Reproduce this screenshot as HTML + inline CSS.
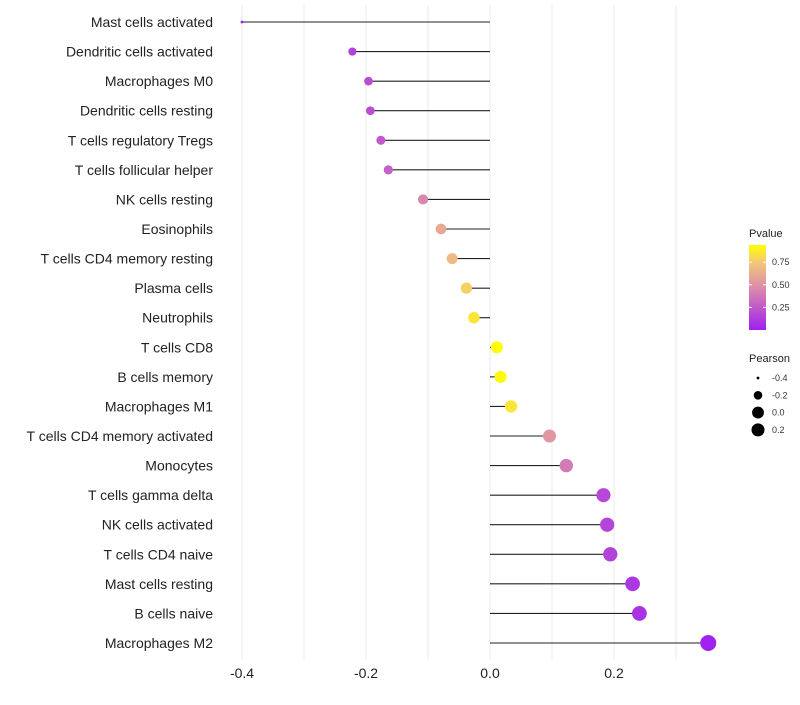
<!DOCTYPE html>
<html><head><meta charset="utf-8"><style>
body{margin:0;background:#fff;font-family:"Liberation Sans",sans-serif}
</style></head><body>
<svg id="c" width="800" height="700" xmlns="http://www.w3.org/2000/svg"></svg>
<script>
const categories=["Mast cells activated","Dendritic cells activated","Macrophages M0","Dendritic cells resting","T cells regulatory  Tregs","T cells follicular helper","NK cells resting","Eosinophils","T cells CD4 memory resting","Plasma cells","Neutrophils","T cells CD8","B cells memory","Macrophages M1","T cells CD4 memory activated","Monocytes","T cells gamma delta","NK cells activated","T cells CD4 naive","Mast cells resting","B cells naive","Macrophages M2"];
const pearson=[-0.40,-0.222,-0.196,-0.193,-0.176,-0.164,-0.108,-0.079,-0.061,-0.038,-0.026,0.011,0.017,0.034,0.096,0.123,0.183,0.189,0.194,0.230,0.241,0.352];
const pvalue=[0.0,0.15,0.2,0.2,0.25,0.28,0.45,0.6,0.68,0.78,0.85,0.95,0.92,0.85,0.52,0.4,0.17,0.16,0.15,0.1,0.08,0.01];
const xTicks=[-0.4,-0.2,0.0,0.2];
const xTickLabels=["-0.4","-0.2","0.0","0.2"];
const pTicks=[0.25,0.5,0.75];
const pTickLabels=["0.25","0.50","0.75"];
const sizeBreaks=[-0.4,-0.2,0.0,0.2];
const sizeLabels=["-0.4","-0.2","0.0","0.2"];

const svg=document.getElementById('c');
const NS="http://www.w3.org/2000/svg";
const x=v=>490+v*620;
const y=i=>22+i*(621/21);
const pMin=0,pMax=0.94;
function lerp(a,b,t){return a+(b-a)*t}
function col(p){
  const t=Math.max(0,Math.min(1,(p-pMin)/(pMax-pMin)));
  const stops=[[0,[160,32,240]],[0.5,[220,140,170]],[0.8,[245,200,120]],[1,[255,255,0]]];
  for(let k=1;k<stops.length;k++){if(t<=stops[k][0]){const a=stops[k-1],b=stops[k];const u=(t-a[0])/(b[0]-a[0]);return `rgb(${a[1].map((c,j)=>Math.round(lerp(c,b[1][j],u))).join(',')})`;}}
  return 'rgb(255,255,0)';
}
const rMin=-0.4,rMax=0.352;
function rad(v){const t=(v-rMin)/(rMax-rMin);return Math.sqrt(2+t*62);}
function el(tag,attrs,parent){const e=document.createElementNS(NS,tag);for(const k in attrs)e.setAttribute(k,attrs[k]);(parent||svg).appendChild(e);return e;}

// gridlines
for(let g=-0.4;g<=0.31;g+=0.1){
  const l=el('line',{x1:x(g),x2:x(g),y1:5,y2:660,stroke:'#ebebeb','stroke-width':1});
  
  
}
// ticks
xTicks.forEach((v,i)=>{
  const t=el('text',{x:x(v),y:678,'font-size':14,'text-anchor':'middle',fill:'#222'});
  t.textContent=xTickLabels[i];
  
  
});
categories.forEach((c,i)=>{
  const t=el('text',{x:213,y:y(i)+5,'font-size':14,'text-anchor':'end',fill:'#222'});
  t.textContent=c;
  
  
  const l=el('line',{x1:x(0),x2:x(pearson[i]),y1:y(i),y2:y(i),stroke:'#222','stroke-width':1.1});
  
  
  const d=el('circle',{cx:x(pearson[i]),cy:y(i),r:rad(pearson[i]),fill:col(pvalue[i])});
  
  
});
// legend colorbar
const defs=el('defs',{});
const lg=el('linearGradient',{id:'pg',x1:0,y1:1,x2:0,y2:0},defs);
for(let s=0;s<=10;s++){el('stop',{offset:s/10,'stop-color':col(pMin+(pMax-pMin)*s/10)},lg);}
const pt=el('text',{x:749,y:237,'font-size':11,fill:'#222'});pt.textContent='Pvalue';


const bar=el('rect',{x:749,y:245,width:17,height:85,fill:'url(#pg)'});


const py=p=>330-(p-pMin)/(pMax-pMin)*85;
pTicks.forEach((p,i)=>{
  el('line',{x1:749,x2:752,y1:py(p),y2:py(p),stroke:'#fff'});
  el('line',{x1:763,x2:766,y1:py(p),y2:py(p),stroke:'#fff'});
  const t=el('text',{x:772,y:py(p)+3,'font-size':9,fill:'#333'});t.textContent=pTickLabels[i];
  
  
});
const st=el('text',{x:749,y:362,'font-size':11,fill:'#222'});st.textContent='Pearson';


sizeBreaks.forEach((v,i)=>{
  const cy=378+i*17.3;
  const c=el('circle',{cx:758,cy:cy,r:Math.min(rad(v),6.5),fill:'#000'});
  
  
  const t=el('text',{x:772,y:cy+3,'font-size':9,fill:'#333'});t.textContent=sizeLabels[i];
  
  
});
</script>
</body></html>
